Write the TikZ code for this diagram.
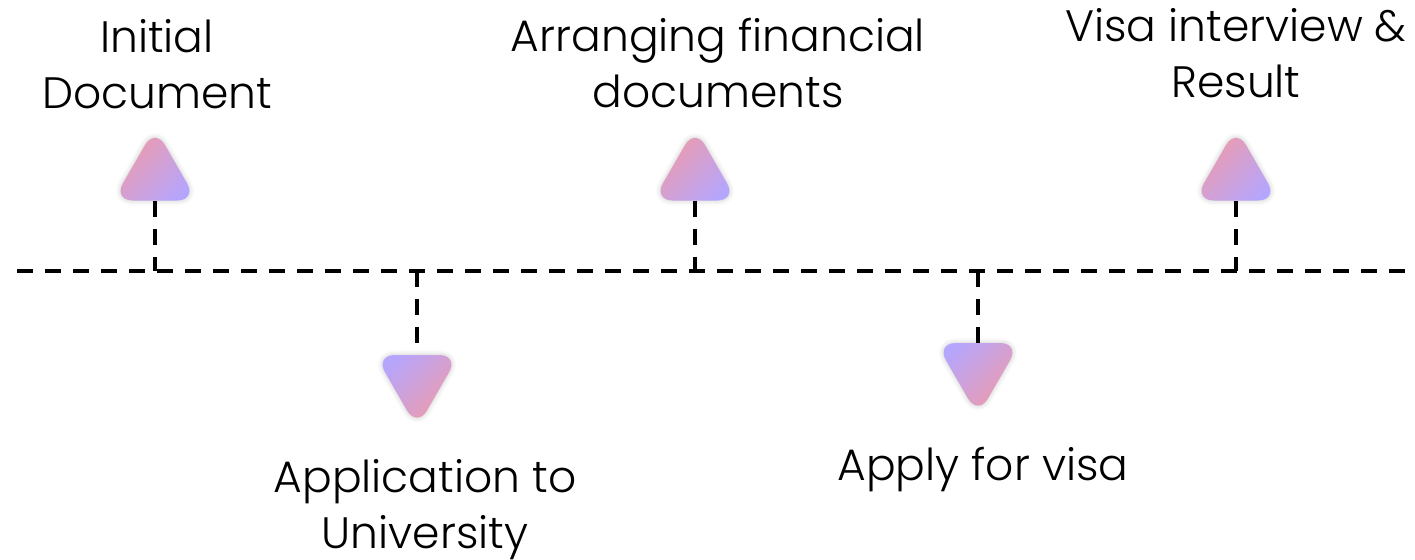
\documentclass[tikz,border=0pt]{standalone}
\usepackage{fontspec}
\setmainfont{Poppins}[UprightFont=* Light]
\usetikzlibrary{shapes.geometric,shadows.blur}
\definecolor{tripink}{RGB}{242,154,166}
\definecolor{trililac}{RGB}{182,165,252}
\begin{document}
\begin{tikzpicture}[x=.5pt, y=-.5pt,
  tri/.style={regular polygon, regular polygon sides=3, minimum size=48.5pt, inner sep=0pt, rounded corners=10pt,
    blur shadow={shadow xshift=0pt, shadow yshift=0pt, shadow blur radius=2.5pt, shadow opacity=22}},
  triup/.style={tri, top color=tripink, bottom color=trililac, shading angle=45},
  tridown/.style={tri, shape border rotate=180, top color=trililac, bottom color=tripink, shading angle=45},
  stem/.style={line width=2pt, dash pattern=on 8pt off 6pt},
  stage/.style={font=\fontsize{22pt}{28pt}\selectfont, align=center, inner sep=0pt, anchor=base}]
\useasboundingbox (0,0) rectangle (1415,559);

\node[triup] (doc) at (155,176.25) {};
\node[tridown] (uni) at (417,379.25) {};
\node[triup] (fin) at (695,176.25) {};
\node[tridown] (visa) at (978,367.25) {};
\node[triup] (res) at (1236,176.25) {};

\coordinate (axis start) at (17,271);
\coordinate (axis end) at (1415,271);
\coordinate (doc axis) at (155,271);
\coordinate (uni axis) at (417,271);
\coordinate (fin axis) at (695,271);
\coordinate (visa axis) at (978,271);
\coordinate (res axis) at (1236,271);

\draw[stem] (axis start) -- (axis end);
\draw[stem] (doc.south) -- (doc axis);
\draw[stem] (uni axis) -- (uni.north);
\draw[stem] (fin.south) -- (fin axis);
\draw[stem] (visa axis) -- (visa.north);
\draw[stem] (res.south) -- (res axis);

\node[stage] (doc label) at (157,108) {Initial\\Document};
\node[stage] (fin label) at (718,107) {Arranging financial\\documents};
\node[stage] (res label) at (1236,97) {Visa interview \&\\Result};
\node[stage] (uni label) at (425,548) {Application to\\University};
\node[stage] (visa label) at (983,480) {Apply for visa};
\end{tikzpicture}
\end{document}
